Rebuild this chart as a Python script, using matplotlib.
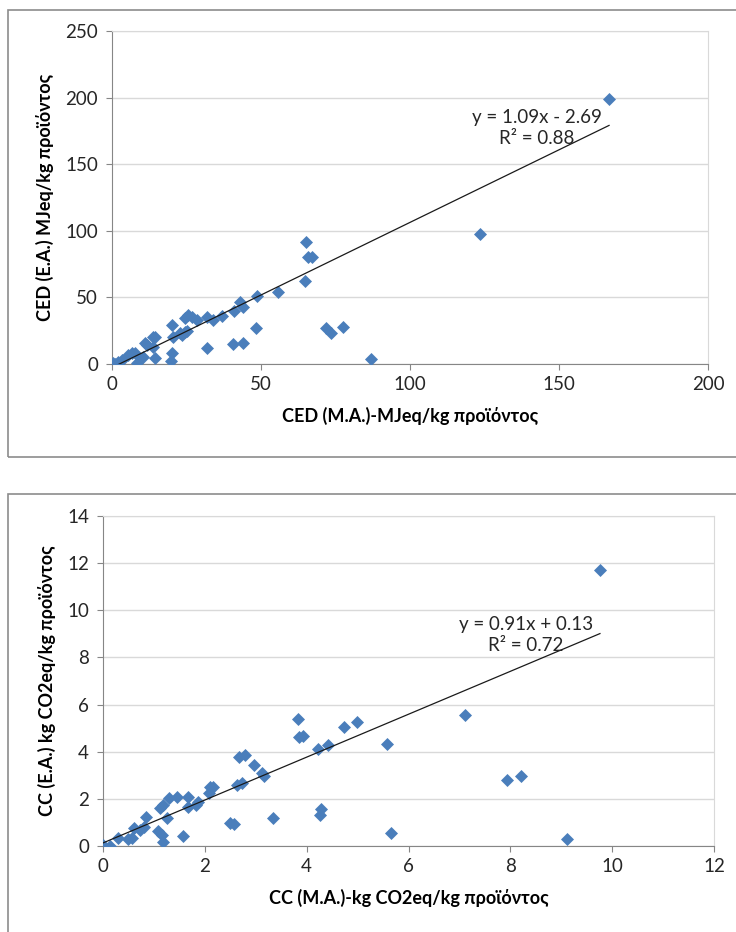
import matplotlib
matplotlib.use("Agg")
import matplotlib.pyplot as plt
from matplotlib.patches import Rectangle
import numpy as np

plt.rcParams['font.family'] = ['Lato', 'DejaVu Sans']

# CED: M.A. (x) vs E.A. (y), MJeq/kg
ced_ma = [0.3, 2, 5.4, 6.7, 7.7, 8.4, 10.4, 11, 11.7, 13.8, 14.4, 13.8, 14.4,
          20, 20, 19.8, 20.5, 22.8, 23.5, 24.5, 25, 24.5, 25.5, 26.8, 28.5,
          31.8, 32, 33.9, 37, 40.7, 41, 43, 44, 44, 48.5, 48.3, 55.7,
          65, 65.8, 67, 64.8, 71.8, 73.5, 77.5, 87, 123.5, 166.8, 1, 3.5]
ced_ea = [0.8, 1.5, 7, 8, 8, 1, 5, 16, 14, 20, 20, 13, 4.5,
          29, 8, 2, 20, 23, 22, 24, 25, 34.5, 36.5, 35, 33,
          35, 12, 33, 36, 15, 40, 46.5, 43, 16, 51, 27, 54,
          91.6, 80, 80, 62, 27, 23, 28, 4, 97.6, 199, 0.3, 3]

# CC: M.A. (x) vs E.A. (y), kg CO2eq/kg
cc_ma = [0, 0.14, 0.3, 0.5, 0.57, 0.6, 0.73, 0.8, 0.85, 1.08, 1.15, 1.17,
         1.12, 1.17, 1.25, 1.3, 1.45, 1.57, 1.67, 1.67, 1.82, 1.86, 2.08,
         2.16, 2.1, 2.5, 2.57, 2.63, 2.73, 2.67, 2.78, 2.96, 3.12, 3.16, 3.33,
         3.83, 3.84, 3.92, 4.22, 4.41, 4.73, 4.98, 5.57, 5.65, 4.29, 4.27,
         7.1, 7.94, 8.2, 9.12, 9.76]
cc_ea = [0.05, 0.0, 0.35, 0.3, 0.35, 0.75, 0.7, 0.8, 1.23, 0.64, 0.47, 0.17,
         1.6, 1.74, 1.2, 2.03, 2.08, 0.42, 2.08, 1.66, 1.74, 1.87, 2.25,
         2.5, 2.5, 0.97, 0.92, 2.6, 2.67, 3.78, 3.86, 3.43, 3.1, 2.97, 1.19,
         5.39, 4.62, 4.67, 4.1, 4.28, 5.05, 5.26, 4.33, 0.55, 1.57, 1.32,
         5.56, 2.8, 2.97, 0.3, 11.71]

fit_ced = (1.09, -2.69)
fit_cc = (0.91, 0.13)

blue = '#4a7ebb'
W, H = 736, 932
fig = plt.figure(figsize=(W / 100, H / 100), dpi=100)

# chart area borders
for y0, y1 in [(10, 457), (494, 960)]:
    fig.patches.append(Rectangle((8 / W, 1 - y1 / H), 760 / W, (y1 - y0) / H,
                                 transform=fig.transFigure, fill=False,
                                 edgecolor='#8c8c8c', linewidth=1.2))


def panel(rect, x, y, fit, xlim, ylim, xstep, ystep, xlabel, ylabel, eq, eqpos):
    ax = fig.add_axes(rect)
    ax.set_xlim(*xlim)
    ax.set_ylim(*ylim)
    ax.set_xticks(np.arange(xlim[0], xlim[1] + xstep / 2, xstep))
    ax.set_yticks(np.arange(ylim[0], ylim[1] + ystep / 2, ystep))
    ax.grid(axis='y', color='#d9d9d9', linewidth=1)
    ax.set_axisbelow(True)
    for s in ['top', 'right']:
        ax.spines[s].set_color('#d9d9d9')
    for s in ['left', 'bottom']:
        ax.spines[s].set_color('#868686')
    ax.tick_params(direction='out', length=4, color='#868686', labelsize=13.5,
                   labelcolor='#262626')
    ax.tick_params(axis='y', pad=6)
    ax.tick_params(axis='x', pad=5)
    ax.scatter(x, y, marker='D', s=44, color=blue, linewidths=0, zorder=3)
    xs = np.array([min(x), max(x)])
    ax.plot(xs, fit[0] * xs + fit[1], color='#1a1a1a', linewidth=0.9, zorder=4)
    ax.text(eqpos[0], eqpos[1], eq, ha='center', va='center', fontsize=13.5,
            multialignment='center', color='#262626', linespacing=1.25,
            zorder=5)
    ax.set_xlabel(xlabel, fontsize=13, fontweight='bold', labelpad=10)
    ax.set_ylabel(ylabel, fontsize=13, fontweight='bold', labelpad=8)
    return ax


panel([112 / W, 1 - 364 / H, 596 / W, 333 / H], ced_ma, ced_ea, fit_ced,
      (0, 200), (0, 250), 50, 50,
      'CED (M.A.)-MJeq/kg προϊόντος', 'CED (E.A.) MJeq/kg προϊόντος',
      'y = 1.09x - 2.69\nR² = 0.88', (142.5, 177))

panel([103 / W, 1 - 846 / H, 611 / W, 330 / H], cc_ma, cc_ea, fit_cc,
      (0, 12), (0, 14), 2, 2,
      'CC (M.A.)-kg CO2eq/kg προϊόντος', 'CC (E.A.) kg CO2eq/kg προϊόντος',
      'y = 0.91x + 0.13\nR² = 0.72', (8.3, 8.95))

fig.savefig('out.png', dpi=100)
